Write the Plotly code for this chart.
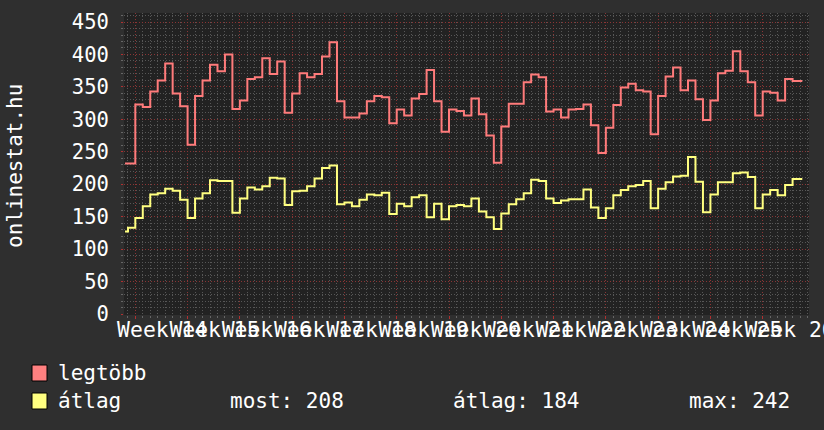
import plotly.graph_objects as go

# onlinestat.hu - napi értékek, 14-26. hét
# first partial day (Saturday/Sunday before week 14) is split in two, the yellow series changes there
LEGTOBB = [232, 232,
           323, 319, 343, 360, 386, 340, 320, 261, 336, 360, 384, 374, 400,
           316, 329, 362, 365, 394, 370, 389, 310, 340, 371, 365, 370, 397,
           419, 328, 303, 303, 309, 328, 336, 334, 294, 315, 306, 332, 339,
           376, 328, 281, 315, 313, 306, 332, 308, 275, 233, 289, 324, 324,
           357, 369, 365, 312, 315, 303, 315, 316, 323, 291, 248, 287, 322,
           349, 355, 345, 343, 277, 336, 366, 380, 345, 360, 331, 299, 329,
           371, 375, 405, 374, 357, 306, 343, 341, 329, 362, 359]
ATLAG = [127, 133,
         148, 166, 184, 186, 193, 190, 176, 148, 178, 186, 206, 205, 205,
         156, 178, 195, 192, 197, 210, 209, 168, 189, 190, 197, 209, 225,
         229, 169, 172, 166, 176, 184, 183, 187, 154, 170, 166, 180, 183,
         149, 170, 146, 166, 168, 166, 178, 158, 149, 131, 155, 169, 177,
         186, 207, 205, 178, 171, 175, 177, 177, 192, 164, 148, 163, 183,
         191, 197, 199, 205, 163, 193, 203, 212, 213, 242, 204, 157, 184,
         203, 203, 217, 218, 211, 163, 184, 191, 183, 199, 208]
WEEK_LABELS = ["Week 14", "Week 15", "Week 16", "Week 17", "Week 18", "Week 19",
               "Week 20", "Week 21", "Week 22", "Week 23", "Week 24", "Week 25",
               "Week 26"]
MOST, ATLAG_AVG, MAX = 208, 184, 242

FIRST_MONDAY = 1.38   # days from graph start to first week boundary
SPLIT = 0.4
END_DAY = 90.68

# x positions of each step (in days)
days = [0, SPLIT] + [FIRST_MONDAY + i for i in range(len(LEGTOBB) - 2)]
days_end = days + [END_DAY]
y_legtobb = LEGTOBB + [LEGTOBB[-1]]
y_atlag = ATLAG + [ATLAG[-1]]

week_ticks = [FIRST_MONDAY + 7 * i for i in range(len(WEEK_LABELS))]
label_pos = [t + 3.6 for t in week_ticks]

W, H = 824, 430
L, R, T, B = 124, 15, 13, 115
FONT = "DejaVu Sans Mono"
BG = "#2f2f2f"
PLOT_BG = "#222222"
MINOR = "#575757"
MAJOR = "#8a3535"
PINK = "#ff7b7b"
YELLOW = "#ffff80"

XRANGE = [(L - 125) / 7.469, (W - R - 125) / 7.469]
YRANGE = [-1.54, 463.9]


def px(xp):
    return (xp - L) / (W - L - R)


def py(yp):
    return (H - B - yp) / (H - T - B)


fig = go.Figure()
fig.add_trace(go.Scatter(x=days_end, y=y_legtobb, mode="lines", line_shape="hv",
                         line=dict(color=PINK, width=2), showlegend=False))
fig.add_trace(go.Scatter(x=days_end, y=y_atlag, mode="lines", line_shape="hv",
                         line=dict(color=YELLOW, width=2), showlegend=False))
# green axis arrows
fig.add_trace(go.Scatter(x=[0], y=[467.5], mode="markers", cliponaxis=False,
                         marker=dict(symbol="triangle-up", size=6, color="#00cc00"),
                         showlegend=False, hoverinfo="skip"))
fig.add_trace(go.Scatter(x=[92.2], y=[-1], mode="markers", cliponaxis=False,
                         marker=dict(symbol="triangle-right", size=6, color="#00cc00"),
                         showlegend=False, hoverinfo="skip"))

fig.update_layout(
    width=W, height=H,
    margin=dict(l=L, r=R, t=T, b=B, autoexpand=False),
    paper_bgcolor=BG, plot_bgcolor=PLOT_BG,
    font=dict(family=FONT, size=21, color="white"),
    xaxis=dict(range=XRANGE, tickmode="array", tickvals=week_ticks, ticktext=[""] * len(week_ticks),
               showgrid=True, gridcolor=MAJOR, griddash="1px,2px", gridwidth=1, automargin=False,
               ticks="outside", ticklen=3, tickcolor="#b03030", zeroline=False, showline=False,
               minor=dict(tickmode="linear", tick0=FIRST_MONDAY, dtick=1, showgrid=True,
                          gridcolor=MINOR, griddash="1px,2px", ticks="outside", ticklen=2,
                          tickcolor="#666666")),
    xaxis2=dict(range=XRANGE, overlaying="x", anchor="y", side="bottom", matches="x",
                tickmode="array", tickvals=label_pos, ticktext=WEEK_LABELS, tickangle=0,
                ticklabeloverflow="allow", automargin=False,
                showgrid=False, zeroline=False, showline=False, ticks="",
                tickfont=dict(family=FONT, size=21.4, color="white")),
    yaxis=dict(range=YRANGE, tickmode="linear", tick0=0, dtick=50, automargin=False,
               showgrid=True, gridcolor=MAJOR, griddash="1px,2px", gridwidth=1,
               ticks="outside", ticklen=2, tickcolor="#b03030", ticklabelstandoff=8,
               zeroline=False, showline=False, tickfont=dict(family=FONT, size=20.5, color="white"),
               minor=dict(tickmode="linear", tick0=0, dtick=10, showgrid=True,
                          gridcolor=MINOR, griddash="1px,2px", ticks="outside", ticklen=2,
                          tickcolor="#666666")),
)

# keep the overlay axis visible
fig.add_trace(go.Scatter(x=[label_pos[0]], y=[None], xaxis="x2", showlegend=False,
                         hoverinfo="skip"))

annotations = [
    dict(x=px(15), y=py(166), text="onlinestat.hu", textangle=-90, showarrow=False,
         xref="paper", yref="paper", xanchor="center", yanchor="middle",
         font=dict(family=FONT, size=21, color="white")),
]
legend_rows = [("legtöbb", 373, "#ff8080"), ("átlag", 401, "#ffff80")]
shapes = []
for text, yc, col in legend_rows:
    shapes.append(dict(type="rect", xref="paper", yref="paper",
                       x0=px(32), x1=px(47), y0=py(yc + 8), y1=py(yc - 8),
                       fillcolor=col, line=dict(color="black", width=1)))
    annotations.append(dict(x=px(56), y=py(yc), text=text, showarrow=False,
                            xref="paper", yref="paper", xanchor="left", yanchor="middle",
                            font=dict(family=FONT, size=21, color="white")))
for text, xl in [("most: %d" % MOST, 228), ("átlag: %d" % ATLAG_AVG, 451), ("max: %d" % MAX, 687)]:
    annotations.append(dict(x=px(xl), y=py(401), text=text, showarrow=False,
                            xref="paper", yref="paper", xanchor="left", yanchor="middle",
                            font=dict(family=FONT, size=21, color="white")))

fig.update_layout(annotations=annotations, shapes=shapes)

# the page's default body margin would push the figure 8px right and down
fig.write_html("out.html", config={"displayModeBar": False},
               post_script="document.body.style.margin = '0px';")
